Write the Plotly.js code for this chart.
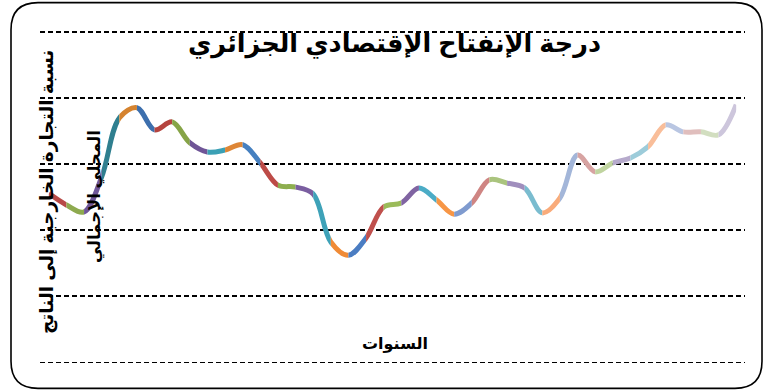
<!DOCTYPE html>
<html>
<head>
<meta charset="utf-8">
<script src="https://cdn.plot.ly/plotly-3.0.1.min.js"></script>
<style>
html,body{margin:0;padding:0;background:#fff;}
#chart{width:766px;height:391px;}
</style>
</head>
<body>
<div id="chart"></div>
<script>
// ---- data ----
const years = [1970,1971,1972,1973,1974,1975,1976,1977,1978,1979,
               1980,1981,1982,1983,1984,1985,1986,1987,1988,1989,
               1990,1991,1992,1993,1994,1995,1996,1997,1998,1999,
               2000,2001,2002,2003,2004,2005,2006,2007,2008,2009];
const openness = [51.1,47.6,45.5,56.1,73.9,77.0,70.3,72.7,66.4,63.6,
                  64.2,65.8,60.3,53.6,53.0,50.9,36.4,32.4,37.6,47.0,
                  48.2,52.7,49.1,44.8,48.2,55.2,54.2,52.7,45.2,49.7,
                  62.7,57.6,60.3,61.8,65.2,71.8,69.7,69.7,68.8,77.9];
const pointColors = ['#4F81BD','#B84A47','#8EAA4F','#70579A','#2F7F8F','#D5832F','#3D6FAD',
                     '#B5443F','#86A447','#6F5597','#3BA0B5','#DE8636','#4680C0',
                     '#BD4B47','#8DAE4E','#7A5EA0','#3EA2B8','#F08B36','#4B7DC2',
                     '#C0504D','#9BBB59','#8064A2','#4BACC6','#F79646','#7F9BCF',
                     '#CF8583','#AAC47E','#A08EBD','#7ABCCF','#F9AB7A','#A3B6D9',
                     '#D7A3A2','#C0D4A0','#B6AACC','#9DCCDA','#F9BE9A','#B9C6E2',
                     '#E0BEBD','#D2DEC0','#CDC6DC'];
const titleText = 'درجة الإنفتاح الإقتصادي الجزائري';
const xTitle = 'السنوات';
const yTitle1 = 'نسبة التجارة الخارجية إلى الناتج';
const yTitle2 = 'المحلي الإجمالي';

// ---- layout geometry ----
const W = 766, H = 391;
const M = {l:40, r:21, t:30.35, b:27.35};
const PW = W - M.l - M.r, PH = H - M.t - M.b;
const px = x => (x - M.l) / PW;
const py = y => (M.t + PH - y) / PH;
const yRange = [-0.5, 100.5];

const n = years.length;
const traces = [];
const layout = {
  width: W, height: H,
  margin: M,
  paper_bgcolor: '#ffffff',
  plot_bgcolor: 'rgba(0,0,0,0)',
  showlegend: false,
  font: {family: 'Liberation Sans, DejaVu Sans, sans-serif', color: '#000'},
  xaxis: {
    range: [years[0] - 0.5, years[n-1] + 0.5],
    domain: [0, 1],
    showgrid: false, zeroline: false, showline: false,
    showticklabels: false, ticks: ''
  },
  yaxis: {
    range: yRange, dtick: 20, tick0: 0,
    showgrid: true, gridcolor: '#000', gridwidth: 1.7, griddash: '5px,3px',
    zeroline: false, showline: false, showticklabels: false, ticks: ''
  },
  yaxis2: {
    range: yRange, domain: [0, 1], anchor: 'x', visible: false, fixedrange: true
  },
  shapes: [],
  annotations: []
};

// Each segment drawn with the full smoothed series on its own x-axis whose
// range/domain window shows only that segment (same scale as the main axis).
for (let k = 1; k < n; k++) {
  const ax = 'xaxis' + (k + 1);
  layout[ax] = {
    range: [years[k-1], years[k]],
    domain: [(k - 0.5) / n, (k + 0.5) / n],
    anchor: 'y2', visible: false, fixedrange: true
  };
  traces.push({
    type: 'scatter', mode: 'lines',
    x: years, y: openness,
    xaxis: 'x' + (k + 1), yaxis: 'y2',
    line: {shape: 'spline', smoothing: 1, width: 5, color: pointColors[k], simplify: false},
    hoverinfo: 'skip'
  });
}
traces.unshift({type:'scatter', mode:'lines', x: years, y: openness, xaxis:'x', yaxis:'y',
  line:{width:0, color:'rgba(0,0,0,0)'}, hoverinfo:'skip'});

// rounded chart border
(function(){
  const x0 = 11, y0 = 3, x1 = 762, y1 = 388, r = 27;
  const P = (x, y) => px(x) + ',' + py(y);
  const path = 'M ' + P(x0 + r, y0) + ' L ' + P(x1 - r, y0) +
    ' Q ' + P(x1, y0) + ' ' + P(x1, y0 + r) +
    ' L ' + P(x1, y1 - r) + ' Q ' + P(x1, y1) + ' ' + P(x1 - r, y1) +
    ' L ' + P(x0 + r, y1) + ' Q ' + P(x0, y1) + ' ' + P(x0, y1 - r) +
    ' L ' + P(x0, y0 + r) + ' Q ' + P(x0, y0) + ' ' + P(x0 + r, y0) + ' Z';
  layout.shapes.push({type:'path', xref:'paper', yref:'paper', path: path,
    line:{color:'#000', width:1.6}, fillcolor:'rgba(0,0,0,0)', layer:'above'});
})();

const boldFont = (s) => ({family: 'Liberation Sans, DejaVu Sans, sans-serif', size: s, color: '#000', weight: 'bold'});

layout.annotations.push({text: '<b>' + titleText + '</b>', xref:'paper', yref:'paper',
  x: px(395), y: py(44), xanchor:'center', yanchor:'middle', showarrow:false, font: boldFont(25.5)});
layout.annotations.push({text: '<b>' + xTitle + '</b>', xref:'paper', yref:'paper',
  x: px(395), y: py(344), xanchor:'center', yanchor:'middle', showarrow:false, font: boldFont(16)});
layout.annotations.push({text: '<b>' + yTitle1 + '</b>', xref:'paper', yref:'paper',
  x: px(47), y: py(192), xanchor:'center', yanchor:'middle', textangle:-90, showarrow:false, font: boldFont(18.5)});
layout.annotations.push({text: '<b>' + yTitle2 + '</b>', xref:'paper', yref:'paper',
  x: px(95), y: py(197), xanchor:'center', yanchor:'middle', textangle:-90, showarrow:false, font: boldFont(16.5)});

Plotly.newPlot('chart', traces, layout, {staticPlot: true, displayModeBar: false});
</script>
</body>
</html>
